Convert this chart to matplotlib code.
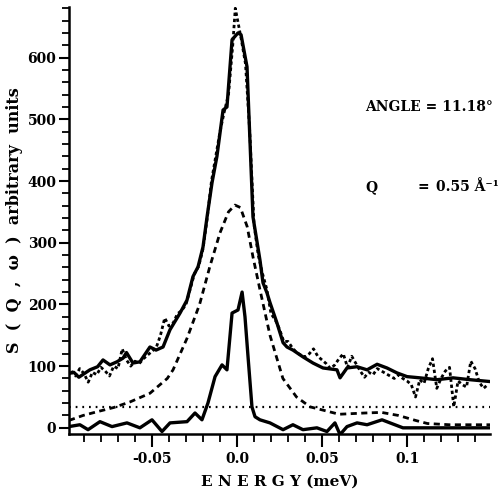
import numpy as np
import matplotlib
matplotlib.use("Agg")
import matplotlib.pyplot as plt
from matplotlib.ticker import MultipleLocator, FixedLocator

plt.rcParams["font.family"] = "DejaVu Serif"
plt.rcParams["font.weight"] = "bold"

# total fit (upper solid line)
fit_x = [-0.0988, -0.096, -0.093, -0.0865, -0.082, -0.0788, -0.0747, -0.0706, -0.067,
         -0.065, -0.0612, -0.0571, -0.0512, -0.0476, -0.0435, -0.0394, -0.0335, -0.0294,
         -0.0259, -0.0229, -0.020, -0.0176, -0.0147, -0.0118, -0.0082, -0.0059, -0.0029,
         0.0006, 0.0024, 0.0059, 0.0076, 0.0094, 0.0135, 0.0153, 0.0176, 0.0194, 0.0235,
         0.0271, 0.0294, 0.0329, 0.0388, 0.0447, 0.0506, 0.0588, 0.0606, 0.0647, 0.0706,
         0.0765, 0.0824, 0.0882, 0.0941, 0.100, 0.1076, 0.1176, 0.1271, 0.1371, 0.1488]
fit_y = [88, 90, 82, 94, 99, 110, 102, 107, 113,
         122, 105, 107, 131, 126, 131, 159, 186, 207,
         245, 261, 293, 342, 397, 440, 515, 520, 629,
         640, 637, 585, 467, 342, 272, 235, 219, 203, 170,
         138, 131, 126, 115, 105, 97, 94, 81, 97, 99,
         94, 103, 97, 89, 83, 81, 78, 81, 78, 75]

# measured data (noisy dotted line)
data_x = [-0.0975, -0.095, -0.0925, -0.090, -0.0875, -0.085, -0.0825, -0.080, -0.0775,
          -0.075, -0.0725, -0.070, -0.0675, -0.065, -0.0625, -0.060, -0.0575, -0.055,
          -0.0525, -0.050, -0.0475, -0.045, -0.0425, -0.040, -0.0375, -0.035, -0.0325,
          -0.030, -0.0275, -0.025, -0.0225, -0.020, -0.0175, -0.015, -0.0125, -0.010,
          -0.0075, -0.005, -0.0025, -0.001, 0.0025, 0.005, 0.0075, 0.010, 0.0125, 0.015,
          0.0175, 0.020, 0.0225, 0.025, 0.0275, 0.030, 0.0325, 0.035, 0.0375, 0.040,
          0.0425, 0.045, 0.0475, 0.050, 0.0525, 0.055, 0.0575, 0.060, 0.0625, 0.065,
          0.0675, 0.070, 0.0725, 0.075, 0.0775, 0.080, 0.0825, 0.085, 0.0875, 0.090,
          0.0925, 0.095, 0.0975, 0.100, 0.1025, 0.105, 0.1075, 0.110, 0.1125, 0.115,
          0.1175, 0.120, 0.1225, 0.125, 0.1275, 0.130, 0.1325, 0.135, 0.1375, 0.140,
          0.1425, 0.145, 0.1475]
data_y = [92, 84, 96, 88, 74, 90, 86, 98, 92,
          84, 100, 96, 128, 110, 100, 108, 104, 112,
          118, 124, 130, 150, 178, 165, 170, 185, 190,
          200, 225, 250, 262, 290, 340, 400, 440, 480,
          512, 540, 620, 680, 630, 590, 480, 330, 280, 250,
          225, 185, 175, 160, 140, 140, 130, 122, 118, 115,
          120, 128, 116, 110, 104, 96, 102, 112, 120, 98,
          116, 104, 92, 82, 90, 86, 96, 92, 88, 84,
          80, 86, 80, 76, 70, 50, 78, 72, 96, 112,
          64, 80, 92, 98, 34, 76, 70, 66, 108, 96,
          74, 64, 70]

# quasi-elastic component (dashed)
qe_x = [-0.0988, -0.0906, -0.0824, -0.0724, -0.0629, -0.0512, -0.041, -0.0376, -0.0294,
        -0.022, -0.016, -0.010, -0.005, -0.0012, 0.002, 0.006, 0.0094, 0.0135, 0.0194,
        0.027, 0.035, 0.043, 0.053, 0.060, 0.075, 0.085, 0.095, 0.105, 0.112, 0.125, 0.1488]
qe_y = [12, 20, 26, 33, 42, 56, 80, 94, 145,
        200, 261, 316, 350, 361, 357, 326, 277, 224, 150,
        80, 50, 34, 27, 22, 24, 25, 20, 12, 7, 5, 5]

# elastic component (lower solid line)
el_x = [-0.0988, -0.0924, -0.0876, -0.0806, -0.0735, -0.0647, -0.0571, -0.050, -0.0441,
        -0.0394, -0.0294, -0.0247, -0.0206, -0.0171, -0.0129, -0.0088, -0.0059, -0.0029,
        0.0006, 0.003, 0.0047, 0.0065, 0.0088, 0.0106, 0.0135, 0.0194, 0.0271, 0.0329,
        0.0388, 0.047, 0.0529, 0.0576, 0.0606, 0.0647, 0.0706, 0.0765, 0.0853, 0.090,
        0.0976, 0.1488]
el_y = [2, 5, -3, 10, 2, 8, 0, 13, -6,
        8, 10, 24, 13, 40, 83, 102, 94, 186,
        191, 220, 180, 115, 34, 18, 13, 8, -3, 5,
        -3, 0, -6, 8, -11, 2, 8, 5, 13, 8,
        0, 0]

background = 33

fig = plt.figure(figsize=(5.02, 4.94), dpi=100)
ax = fig.add_axes([69 / 502, 1 - 434 / 494, 421 / 502, 427 / 494])

ax.plot(fit_x, fit_y, color="black", lw=2.4, solid_joinstyle="round")
ax.plot(data_x, data_y, color="black", lw=2.0, linestyle=(0, (1.2, 1.0)))
ax.plot(qe_x, qe_y, color="black", lw=2.0, linestyle=(0, (2.2, 1.6)))
ax.axhline(background, color="black", lw=1.6, linestyle=(0, (0.8, 2.2)))
ax.plot(el_x, el_y, color="black", lw=2.4, solid_joinstyle="round")

ax.set_xlim(-0.0988, 0.1488)
ax.set_ylim(-10, 682)

ax.spines["top"].set_visible(False)
ax.spines["right"].set_visible(False)
ax.spines["left"].set_linewidth(1.8)
ax.spines["bottom"].set_linewidth(1.8)

ax.xaxis.set_major_locator(FixedLocator([-0.05, 0.0, 0.05, 0.1]))
ax.set_xticklabels(["-0.05", "0.0", "0.05", "0.1"])
ax.xaxis.set_minor_locator(MultipleLocator(0.01))
ax.yaxis.set_major_locator(MultipleLocator(100))
ax.yaxis.set_minor_locator(MultipleLocator(20))

ax.tick_params(axis="x", which="major", direction="out", length=9, width=1.5, labelsize=10, pad=4)
ax.tick_params(axis="x", which="minor", direction="out", length=6, width=1.3)
ax.tick_params(axis="y", which="major", direction="out", length=7, width=1.5, labelsize=10, pad=2)
ax.tick_params(axis="y", which="minor", direction="out", length=5, width=1.3)

ax.set_xlabel("E N E R G Y (meV)", fontsize=11, fontweight="bold", labelpad=6)
ax.set_ylabel("S  (  Q  ,  ω  )  arbitrary  units", fontsize=11.5, fontweight="bold", labelpad=3)

fig.text(365 / 502, 1 - 107 / 494, "ANGLE = 11.18°", fontsize=10, fontweight="bold", va="center")
fig.text(365 / 502, 1 - 187 / 494, "Q", fontsize=10, fontweight="bold", va="center")
fig.text(418 / 502, 1 - 187 / 494, "=", fontsize=10, fontweight="bold", va="center")
fig.text(436 / 502, 1 - 187 / 494, "0.55 Å⁻¹", fontsize=10, fontweight="bold", va="center")

fig.savefig("out.png", dpi=100)
